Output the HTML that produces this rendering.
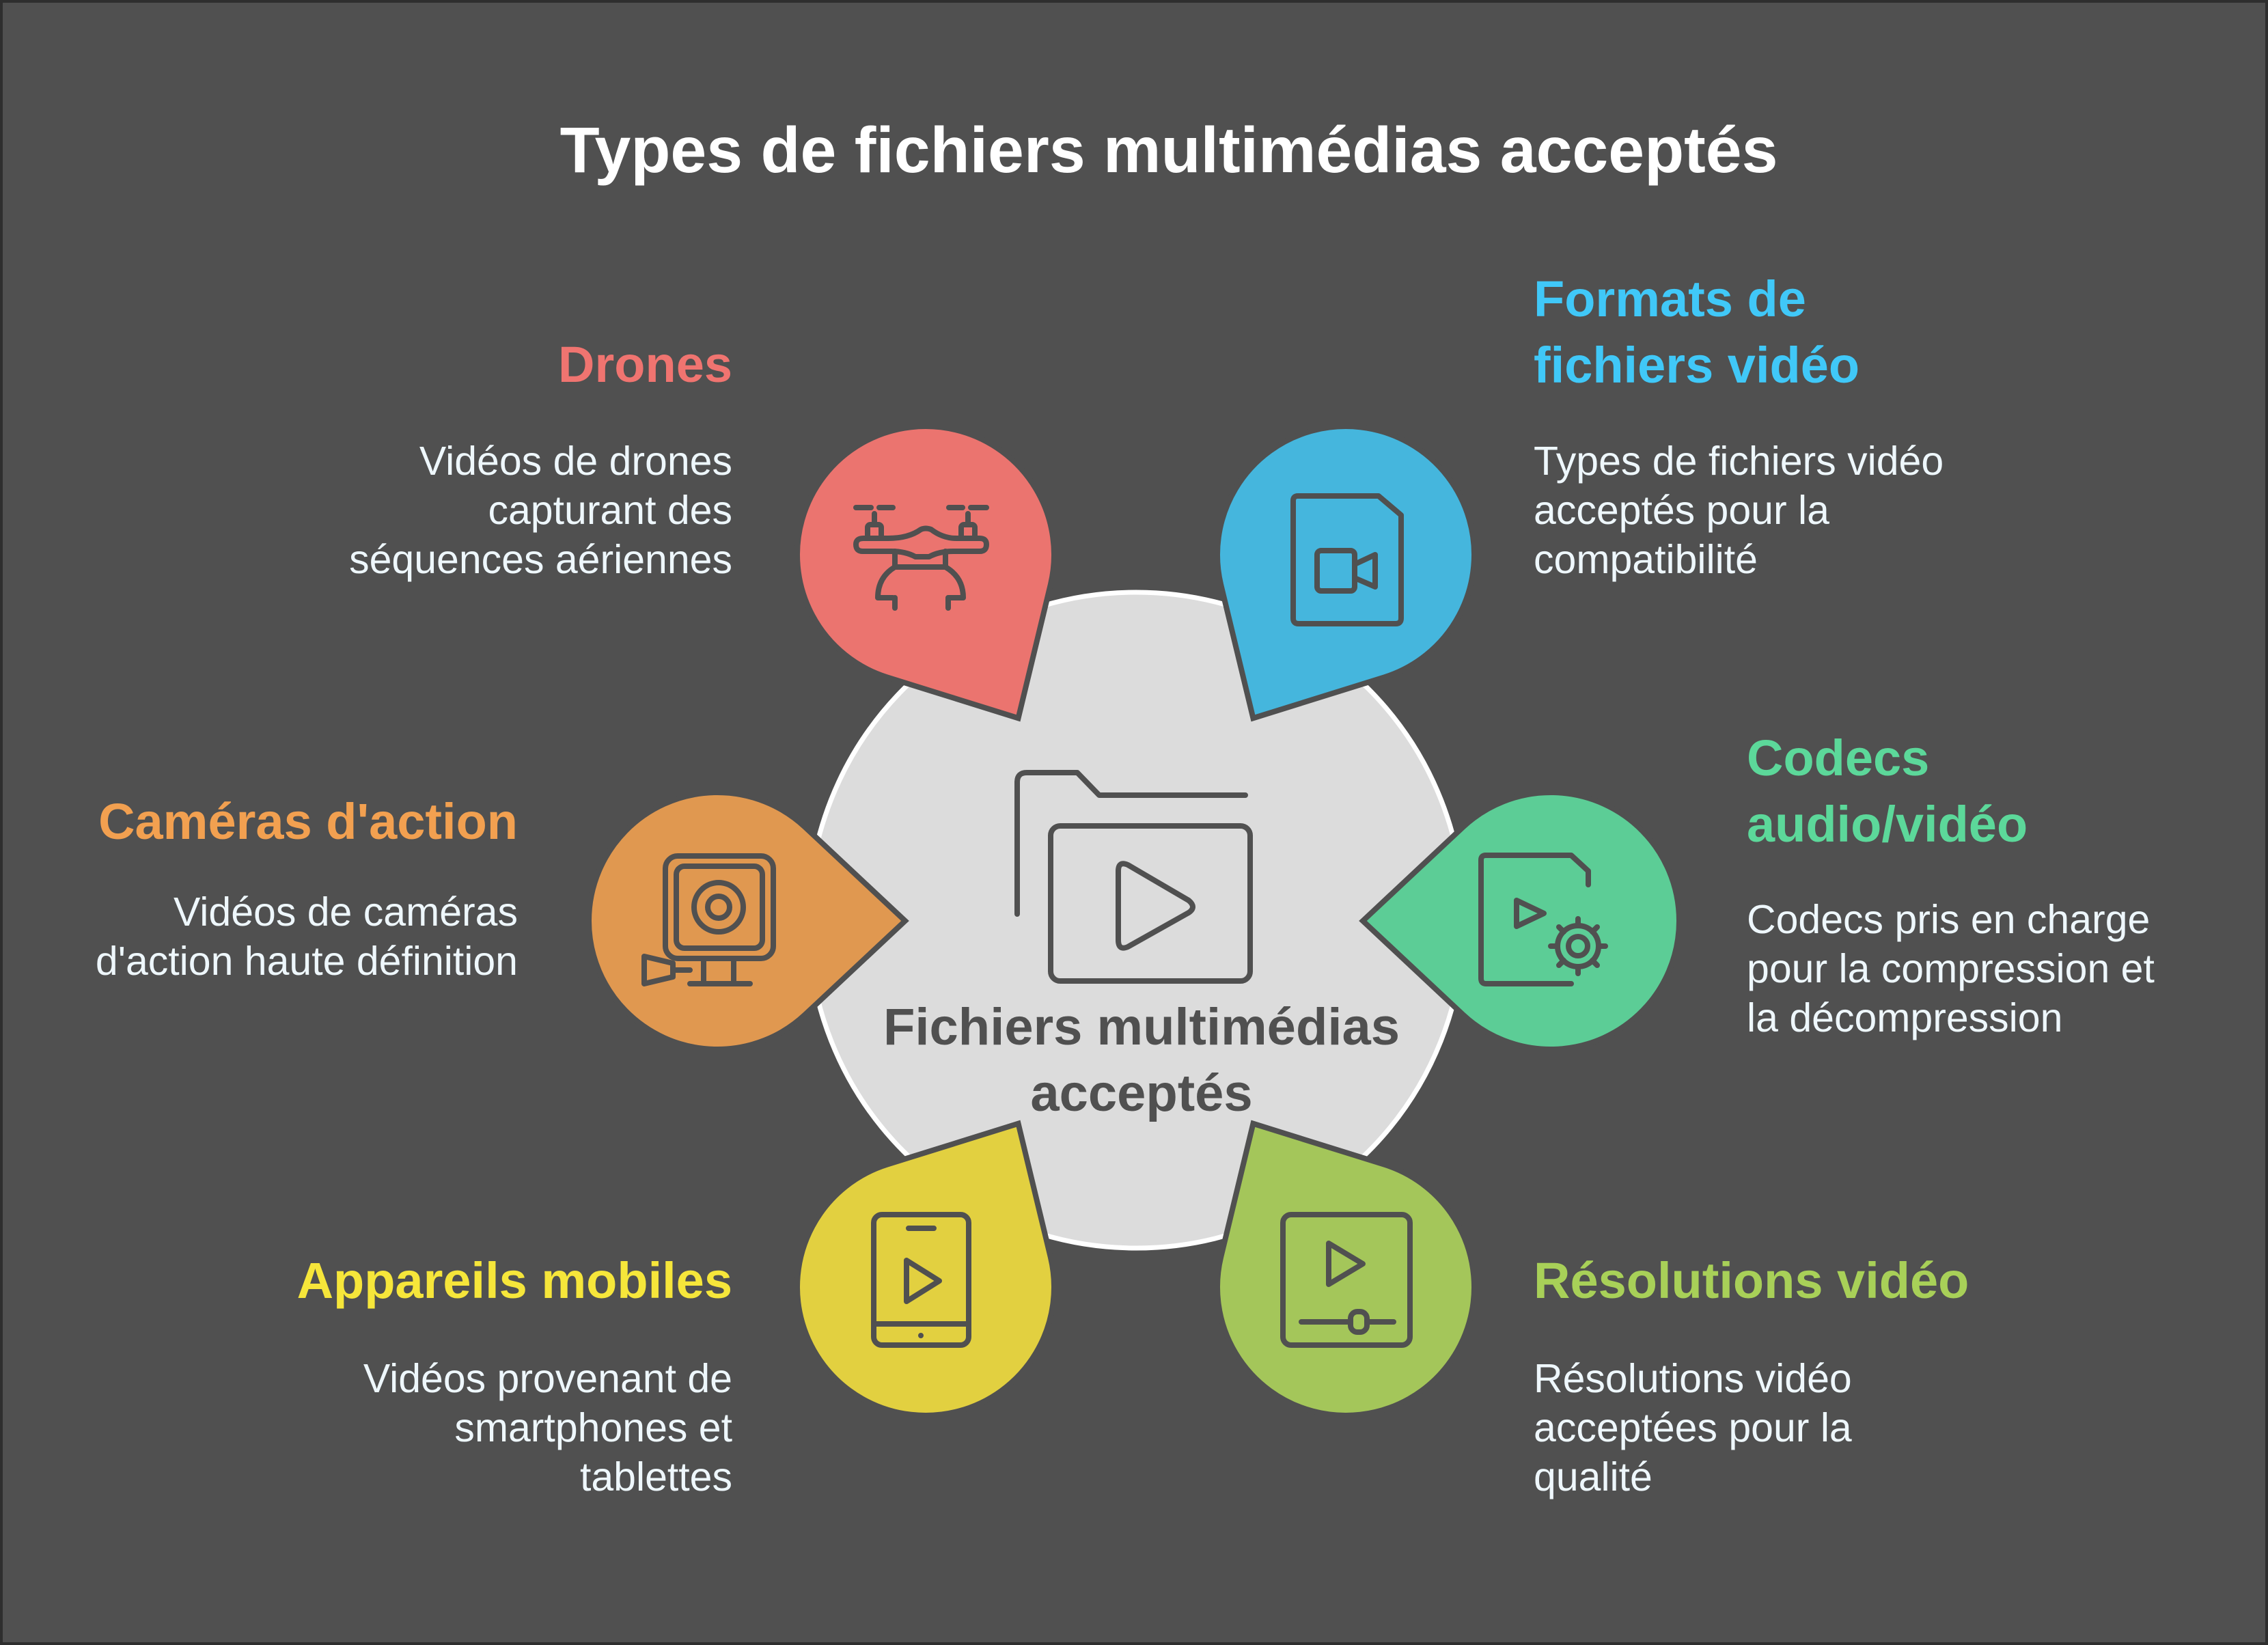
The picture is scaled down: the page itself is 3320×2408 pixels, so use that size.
<!DOCTYPE html>
<html><head><meta charset="utf-8"><style>
html,body{margin:0;padding:0;background:#2e2e2e}
svg{display:block}
text{font-family:"Liberation Sans",sans-serif}
.h{font-weight:bold;font-size:74px}
.b{font-size:59px;fill:#eef7fc}
</style></head><body>
<svg width="3320" height="2408" viewBox="0 0 3320 2408" xmlns="http://www.w3.org/2000/svg">
<rect x="0" y="0" width="3320" height="2408" fill="#2e2e2e"/>
<rect x="4" y="4" width="3312" height="2400" fill="#505050"/>
<text x="1711" y="252" text-anchor="middle" font-weight="bold" font-size="95" fill="#ffffff">Types de fichiers multimédias acceptés</text>

<circle cx="1663" cy="1347" r="480" fill="#dcdcdc" stroke="#ffffff" stroke-width="7"/>

<defs><path id="pin" d="M275,0 L128.1,137.6 A188,188 0 1 1 128.1,-137.6 Z"/></defs>
<g stroke="#505050" stroke-width="8" stroke-linejoin="miter">
<use href="#pin" transform="translate(1355,812) rotate(60.46)" fill="#eb746f"/>
<use href="#pin" transform="translate(1970,812) rotate(119.54)" fill="#45b6dd"/>
<use href="#pin" transform="translate(2270,1348) rotate(180)" fill="#5ccd96"/>
<use href="#pin" transform="translate(1970,1884) rotate(-119.54)" fill="#a4c65a"/>
<use href="#pin" transform="translate(1355,1884) rotate(-60.46)" fill="#e2d040"/>
<use href="#pin" transform="translate(1050,1348)" fill="#e09850"/>
</g>

<g fill="none" stroke="#505050" stroke-width="8" stroke-linecap="round" stroke-linejoin="round">
<!-- central folder -->
<path d="M1489,1338 V1145 Q1489,1131 1503,1131 H1577 L1609,1164 H1823"/>
<rect x="1538" y="1209" width="292" height="227" rx="14"/>
<path d="M1637,1275 Q1637,1260 1651,1266 L1740,1318 Q1752,1328 1740,1336 L1651,1386 Q1637,1392 1637,1376 Z"/>
<!-- drone -->
<path d="M1253,743 H1275 M1287,743 H1307 M1389,743 H1409 M1421,743 H1444"/>
<path d="M1280,752 V768 M1417,752 V768"/>
<rect x="1270" y="768" width="20" height="20" rx="4"/><rect x="1407" y="768" width="20" height="20" rx="4"/>
<path d="M1264,788 H1300 Q1330,788 1348,775 Q1355,772 1363,775 Q1380,788 1400,788 H1434 Q1444,788 1444,797 Q1444,807 1434,807 H1395 Q1375,807 1360,815 H1340 Q1325,807 1305,807 H1263 Q1253,807 1253,797 Q1253,788 1264,788 Z"/>
<path d="M1310,807 V830 H1384 V807"/>
<path d="M1310,830 Q1285,845 1285,875 H1307 M1384,830 Q1410,845 1410,875 H1388 M1310,875 V890 M1388,875 V890"/>
<!-- formats doc -->
<path d="M1900,726 H2018 L2051,754 V905 Q2051,913 2043,913 H1901 Q1893,913 1893,905 V733 Q1893,726 1900,726 Z"/>
<rect x="1928" y="806" width="55" height="59" rx="6"/>
<path d="M1983,826 L2013,812 V859 L1983,846"/>
<!-- codecs -->
<path d="M2175,1252 H2300 L2325,1275 V1295 M2300,1440 H2175 Q2168,1440 2168,1432 V1259 Q2168,1252 2175,1252"/>
<path d="M2220,1318 V1356 L2260,1337 Z"/>
<circle cx="2310" cy="1385" r="14"/>
<path d="M2310,1345 V1355 M2310,1415 V1425 M2270,1385 H2280 M2340,1385 H2350 M2282,1357 L2289,1364 M2331,1406 L2338,1413 M2282,1413 L2289,1406 M2331,1364 L2338,1357"/>
<circle cx="2310" cy="1385" r="30"/>
<!-- action camera -->
<rect x="974" y="1253" width="158" height="150" rx="18"/>
<rect x="990" y="1268" width="126" height="120" rx="12"/>
<circle cx="1052" cy="1328" r="36"/><circle cx="1052" cy="1328" r="16"/>
<path d="M1030,1403 V1437 M1074,1403 V1437 M1010,1440 H1098 M1010,1420 H985 M943,1400 L985,1410 V1430 L943,1440 Z"/>
<!-- mobile -->
<rect x="1279" y="1778" width="139" height="191" rx="12"/>
<path d="M1330,1798 H1367 M1279,1938 H1418 M1348,1955 V1955"/>
<path d="M1327,1845 V1905 L1375,1875 Z"/>
<!-- resolution -->
<rect x="1878" y="1778" width="186" height="191" rx="12"/>
<path d="M1945,1820 V1880 L1995,1850 Z"/>
<path d="M1905,1935 H1975 M2005,1935 H2040"/>
<rect x="1977" y="1920" width="24" height="30" rx="10"/>
</g>

<text x="1671" y="1529" text-anchor="middle" font-weight="bold" font-size="76" fill="#505050">Fichiers multimédias</text>
<text x="1671" y="1626" text-anchor="middle" font-weight="bold" font-size="76" fill="#505050">acceptés</text>

<!-- Drones -->
<text class="h" x="1072" y="559" text-anchor="end" fill="#f07470">Drones</text>
<text class="b" text-anchor="end"><tspan x="1072" y="695">Vidéos de drones</tspan><tspan x="1072" y="767">capturant des</tspan><tspan x="1072" y="839">séquences aériennes</tspan></text>
<!-- Formats -->
<text class="h" fill="#40c8f8"><tspan x="2245" y="463">Formats de</tspan><tspan x="2245" y="560">fichiers vidéo</tspan></text>
<text class="b"><tspan x="2245" y="695">Types de fichiers vidéo</tspan><tspan x="2245" y="767">acceptés pour la</tspan><tspan x="2245" y="839">compatibilité</tspan></text>
<!-- Codecs -->
<text class="h" fill="#5cd89a"><tspan x="2557" y="1135">Codecs</tspan><tspan x="2557" y="1232">audio/vidéo</tspan></text>
<text class="b"><tspan x="2557" y="1366">Codecs pris en charge</tspan><tspan x="2557" y="1438">pour la compression et</tspan><tspan x="2557" y="1510">la décompression</tspan></text>
<!-- Action -->
<text class="h" x="758" y="1228" text-anchor="end" fill="#f2a050">Caméras d'action</text>
<text class="b" text-anchor="end"><tspan x="758" y="1355">Vidéos de caméras</tspan><tspan x="758" y="1427">d'action haute définition</tspan></text>
<!-- Appareils -->
<text class="h" x="1072" y="1900" text-anchor="end" fill="#f6e63a">Appareils mobiles</text>
<text class="b" text-anchor="end"><tspan x="1072" y="2038">Vidéos provenant de</tspan><tspan x="1072" y="2110">smartphones et</tspan><tspan x="1072" y="2182">tablettes</tspan></text>
<!-- Résolutions -->
<text class="h" x="2245" y="1900" fill="#a8d058">Résolutions vidéo</text>
<text class="b"><tspan x="2245" y="2038">Résolutions vidéo</tspan><tspan x="2245" y="2110">acceptées pour la</tspan><tspan x="2245" y="2182">qualité</tspan></text>
</svg>
</body></html>
